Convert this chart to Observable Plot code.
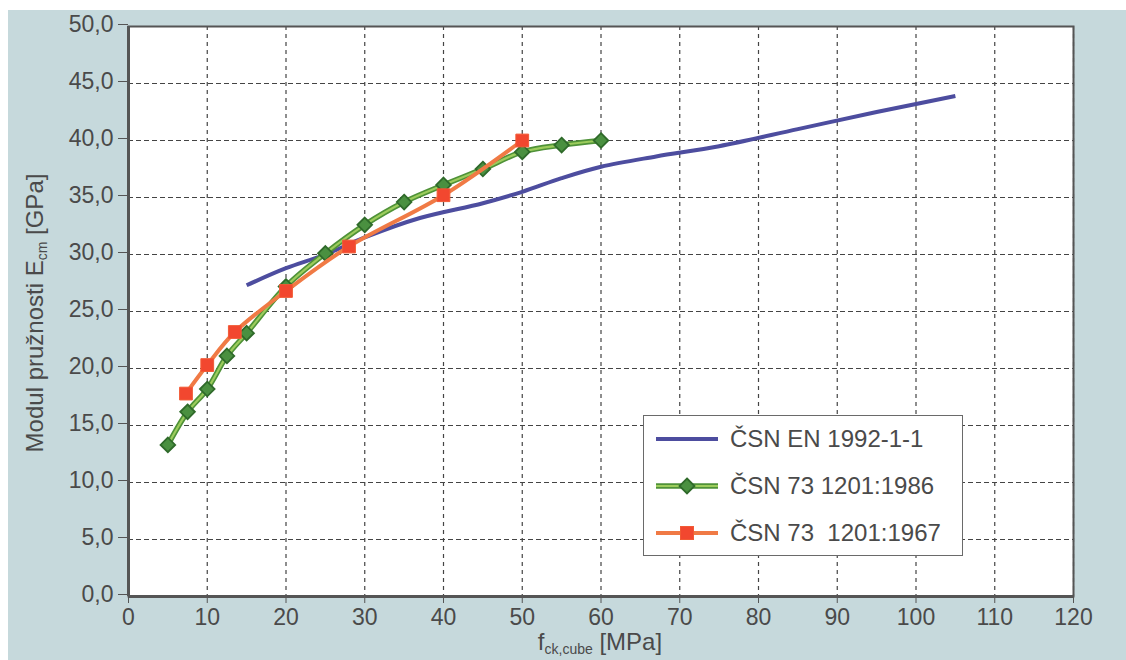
<!DOCTYPE html>
<html>
<head>
<meta charset="utf-8">
<script src="https://cdn.jsdelivr.net/npm/d3@7"></script>
<script src="https://cdn.jsdelivr.net/npm/@observablehq/plot@0.6"></script>
<style>
  html, body { margin: 0; padding: 0; background: #ffffff; overflow: hidden; }
  #wrap { position: relative; width: 1126px; height: 660px; font-family: "Liberation Sans", Arial, sans-serif; color: #4a4a4a; }
  #chart { position: absolute; left: 8px; top: 10px; }
  #ylabel { position: absolute; left: 35px; top: 313px; transform: translate(-50%, -50%) rotate(-90deg); white-space: nowrap; font-size: 24px; line-height: 24px; }
  #xlabel { position: absolute; left: 600px; top: 630px; transform: translateX(-50%); white-space: nowrap; font-size: 24px; line-height: 24px; }
  sub { font-size: 14px; vertical-align: -0.3em; line-height: 0; }
  #legend { position: absolute; left: 643px; top: 415px; width: 318px; height: 139px; border: 1.5px solid #6a6a6a; background: #ffffff; }
  .row { position: absolute; left: 0; height: 46px; display: flex; align-items: center; font-size: 24px; white-space: pre; }
  .row svg { margin-left: 12px; margin-right: 12px; }
</style>
</head>
<body>
<div id="wrap">
  <div id="chart"></div>
  <div id="ylabel">Modul pružnosti E<sub>cm</sub> [GPa]</div>
  <div id="xlabel">f<sub>ck,cube</sub> [MPa]</div>
  <div id="legend"></div>
</div>
<script>
// ---- data ----
const xTicks = [0, 10, 20, 30, 40, 50, 60, 70, 80, 90, 100, 110, 120];
const yTicks = [0, 5, 10, 15, 20, 25, 30, 35, 40, 45, 50];

const seriesNames = ["ČSN EN 1992-1-1", "ČSN 73 1201:1986", "ČSN 73  1201:1967"];

// ČSN EN 1992-1-1
const fEN = [15, 20, 25, 30, 37, 45, 50, 55, 60, 67, 75, 85, 95, 105];
const eEN = [27.3, 28.8, 30.0, 31.5, 33.2, 34.5, 35.5, 36.7, 37.7, 38.6, 39.5, 41.0, 42.5, 43.9];

// ČSN 73 1201:1986
const f86 = [5, 7.5, 10, 12.5, 15, 20, 25, 30, 35, 40, 45, 50, 55, 60];
const e86 = [13.3, 16.2, 18.2, 21.1, 23.1, 27.2, 30.1, 32.6, 34.6, 36.1, 37.5, 39.0, 39.6, 40.0];

// ČSN 73 1201:1967
const f67 = [7.3, 10, 13.5, 20, 28, 40, 50];
const e67 = [17.8, 20.3, 23.2, 26.8, 30.7, 35.2, 40.0];

// ---- colours ----
const cBlue = "#4d4d9f";
const cGreenDark = "#4f9238";
const cGreenLight = "#9ccc5c";
const cDiamondFill = "#4a9040";
const cDiamondStroke = "#2f6a2a";
const cOrange = "#f07a45";
const cSquare = "#f2472f";

const toRows = (xs, ys) => xs.map((x, i) => ({x, y: ys[i]}));
const dEN = toRows(fEN, eEN);
const d86 = toRows(f86, e86);
const d67 = toRows(f67, e67);

const fmtY = d => d.toFixed(1).replace(".", ",");
const curve = "catmull-rom";

const plot = Plot.plot({
  width: 1118,
  height: 650,
  marginLeft: 120,
  marginRight: 53,
  marginTop: 16,
  marginBottom: 64,
  style: {
    background: "#c6d9dc",
    fontFamily: "'Liberation Sans', Arial, sans-serif",
    fontSize: "23px",
    color: "#4a4a4a",
    overflow: "visible"
  },
  x: {domain: [0, 120], label: null},
  y: {domain: [0, 50], label: null},
  marks: [
    Plot.frame({fill: "white", stroke: null}),
    Plot.gridX(xTicks, {stroke: "#444", strokeOpacity: 1, strokeWidth: 1.2, strokeDasharray: "4,4"}),
    Plot.gridY(yTicks, {stroke: "#444", strokeOpacity: 1, strokeWidth: 1.2, strokeDasharray: "5,3"}),
    Plot.axisX(xTicks, {tickSize: 7, tickPadding: 5, stroke: "#555", fill: "#4a4a4a", label: null}),
    Plot.axisY(yTicks, {tickSize: 10, tickPadding: 5, stroke: "#555", fill: "#4a4a4a", tickFormat: fmtY, label: null, dy: -2}),
    Plot.frame({stroke: "#555", strokeWidth: 2}),
    Plot.ruleX([0], {stroke: "#555", strokeWidth: 3}),
    Plot.ruleY([0], {stroke: "#555", strokeWidth: 3}),
    Plot.line(dEN, {x: "x", y: "y", stroke: cBlue, strokeWidth: 4, curve, strokeLinecap: "butt"}),
    Plot.line(d86, {x: "x", y: "y", stroke: cGreenDark, strokeWidth: 5.5, curve}),
    Plot.line(d86, {x: "x", y: "y", stroke: cGreenLight, strokeWidth: 2.2, curve}),
    Plot.dot(d86, {x: "x", y: "y", symbol: "diamond2", r: 6.6, fill: cDiamondFill, stroke: cDiamondStroke, strokeWidth: 1.8}),
    Plot.line(d67, {x: "x", y: "y", stroke: cOrange, strokeWidth: 4, curve}),
    Plot.dot(d67, {x: "x", y: "y", symbol: "square", r: 7.2, fill: cSquare, stroke: "#f25a35", strokeWidth: 1})
  ]
});
document.getElementById("chart").appendChild(plot);

// ---- legend ----
const legend = document.getElementById("legend");
const samples = [
  `<svg width="62" height="20"><line x1="0" y1="10" x2="62" y2="10" stroke="${cBlue}" stroke-width="4"/></svg>`,
  `<svg width="62" height="20"><line x1="0" y1="10" x2="62" y2="10" stroke="${cGreenDark}" stroke-width="5.5"/><line x1="0" y1="10" x2="62" y2="10" stroke="${cGreenLight}" stroke-width="2.2"/><path d="M31,2.5L38.5,10L31,17.5L23.5,10Z" fill="${cDiamondFill}" stroke="${cDiamondStroke}" stroke-width="1.8"/></svg>`,
  `<svg width="62" height="20"><line x1="0" y1="10" x2="62" y2="10" stroke="${cOrange}" stroke-width="4"/><rect x="24.5" y="3.5" width="13" height="13" fill="${cSquare}" stroke="#f25a35" stroke-width="1"/></svg>`
];
const rowCenters = [23, 70, 117];
seriesNames.forEach((name, i) => {
  const row = document.createElement("div");
  row.className = "row";
  row.style.top = (rowCenters[i] - 23) + "px";
  row.innerHTML = samples[i] + `<span>${name}</span>`;
  legend.appendChild(row);
});
</script>
</body>
</html>
